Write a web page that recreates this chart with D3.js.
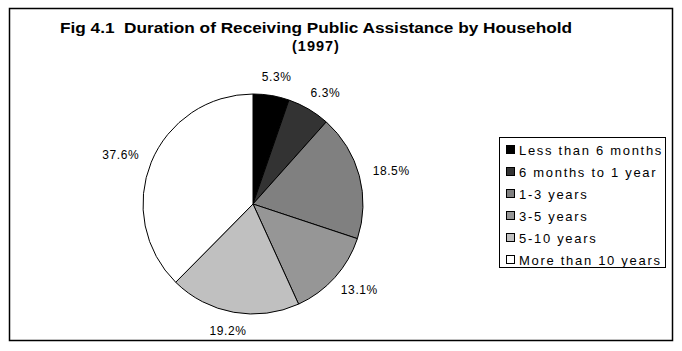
<html>
<head>
<meta charset="utf-8">
<script src="https://d3js.org/d3.v7.min.js"></script>
<style>
  body { margin: 0; background: #fff; }
  text { font-family: "Liberation Sans", "DejaVu Sans", sans-serif; }
</style>
</head>
<body>
<svg id="chart" width="682" height="351"></svg>
<script>
// data
const categories = ["Less than 6 months", "6 months to 1 year", "1-3 years", "3-5 years", "5-10 years", "More than 10 years"];
const shares = [5.3, 6.3, 18.5, 13.1, 19.2, 37.6];
const fills = ["#000000", "#333333", "#808080", "#969696", "#c0c0c0", "#ffffff"];
const titleLines = ["Fig 4.1  Duration of Receiving Public Assistance by Household", "(1997)"];

const svg = d3.select("#chart");
const cx = 253, cy = 204, r = 110;

// outer frame
svg.append("rect")
    .attr("x", 9.5).attr("y", 8.5)
    .attr("width", 663).attr("height", 332)
    .attr("fill", "none").attr("stroke", "black").attr("stroke-width", 1.5);

// title
svg.selectAll("text.title")
    .data(titleLines)
    .join("text")
    .attr("class", "title")
    .attr("x", 316)
    .attr("y", (d, i) => 33 + i * 18)
    .attr("text-anchor", "middle")
    .attr("font-size", 14.5)
    .attr("font-weight", "bold")
    .attr("letter-spacing", (d, i) => i == 0 ? 0 : 1)
    .attr("textLength", (d, i) => i == 0 ? 512 : null)
    .attr("lengthAdjust", "spacingAndGlyphs")
    .style("white-space", "pre")
    .text(d => d);

const data = categories.map((c, i) => ({ name: c, value: shares[i], fill: fills[i] }));
const pie = d3.pie().value(d => d.value).sort(null);
const arc = d3.arc().innerRadius(0).outerRadius(r);
const arcs = pie(data);

const g = svg.append("g").attr("transform", `translate(${cx},${cy})`);

g.selectAll("path.slice")
    .data(arcs)
    .join("path")
    .attr("class", "slice")
    .attr("d", arc)
    .attr("fill", d => d.data.fill)
    .attr("stroke", "black")
    .attr("stroke-width", 1);

// percentage labels outside the pie
g.selectAll("text.lbl")
    .data(arcs)
    .join("text")
    .attr("class", "lbl")
    .attr("font-size", 12)
    .attr("letter-spacing", 0.6)
    .attr("text-anchor", "middle")
    .attr("x", d => {
        const a = (d.startAngle + d.endAngle) / 2;
        return Math.sin(a) * (r + 14) + Math.sin(a) * 19;
    })
    .attr("y", d => {
        const a = (d.startAngle + d.endAngle) / 2;
        return -Math.cos(a) * (r + 14) - Math.cos(a) * 5 + 4;
    })
    .text(d => d.data.value.toFixed(1) + "%");

// legend
const legend = svg.append("g").attr("transform", "translate(499,137)");
legend.append("rect")
    .attr("x", 0.5).attr("y", 0.5)
    .attr("width", 166).attr("height", 130)
    .attr("fill", "white").attr("stroke", "black").attr("stroke-width", 1);

const rows = legend.selectAll("g.row")
    .data(data)
    .join("g")
    .attr("class", "row")
    .attr("transform", (d, i) => `translate(0,${13 + i * 22})`);

rows.append("rect")
    .attr("x", 7.5).attr("y", -4.5)
    .attr("width", 8).attr("height", 8)
    .attr("fill", d => d.fill)
    .attr("stroke", "black").attr("stroke-width", 1);

rows.append("text")
    .attr("x", 20)
    .attr("y", 4.5)
    .attr("font-size", 13)
    .attr("letter-spacing", 1.7)
    .text(d => d.name);
</script>
</body>
</html>
